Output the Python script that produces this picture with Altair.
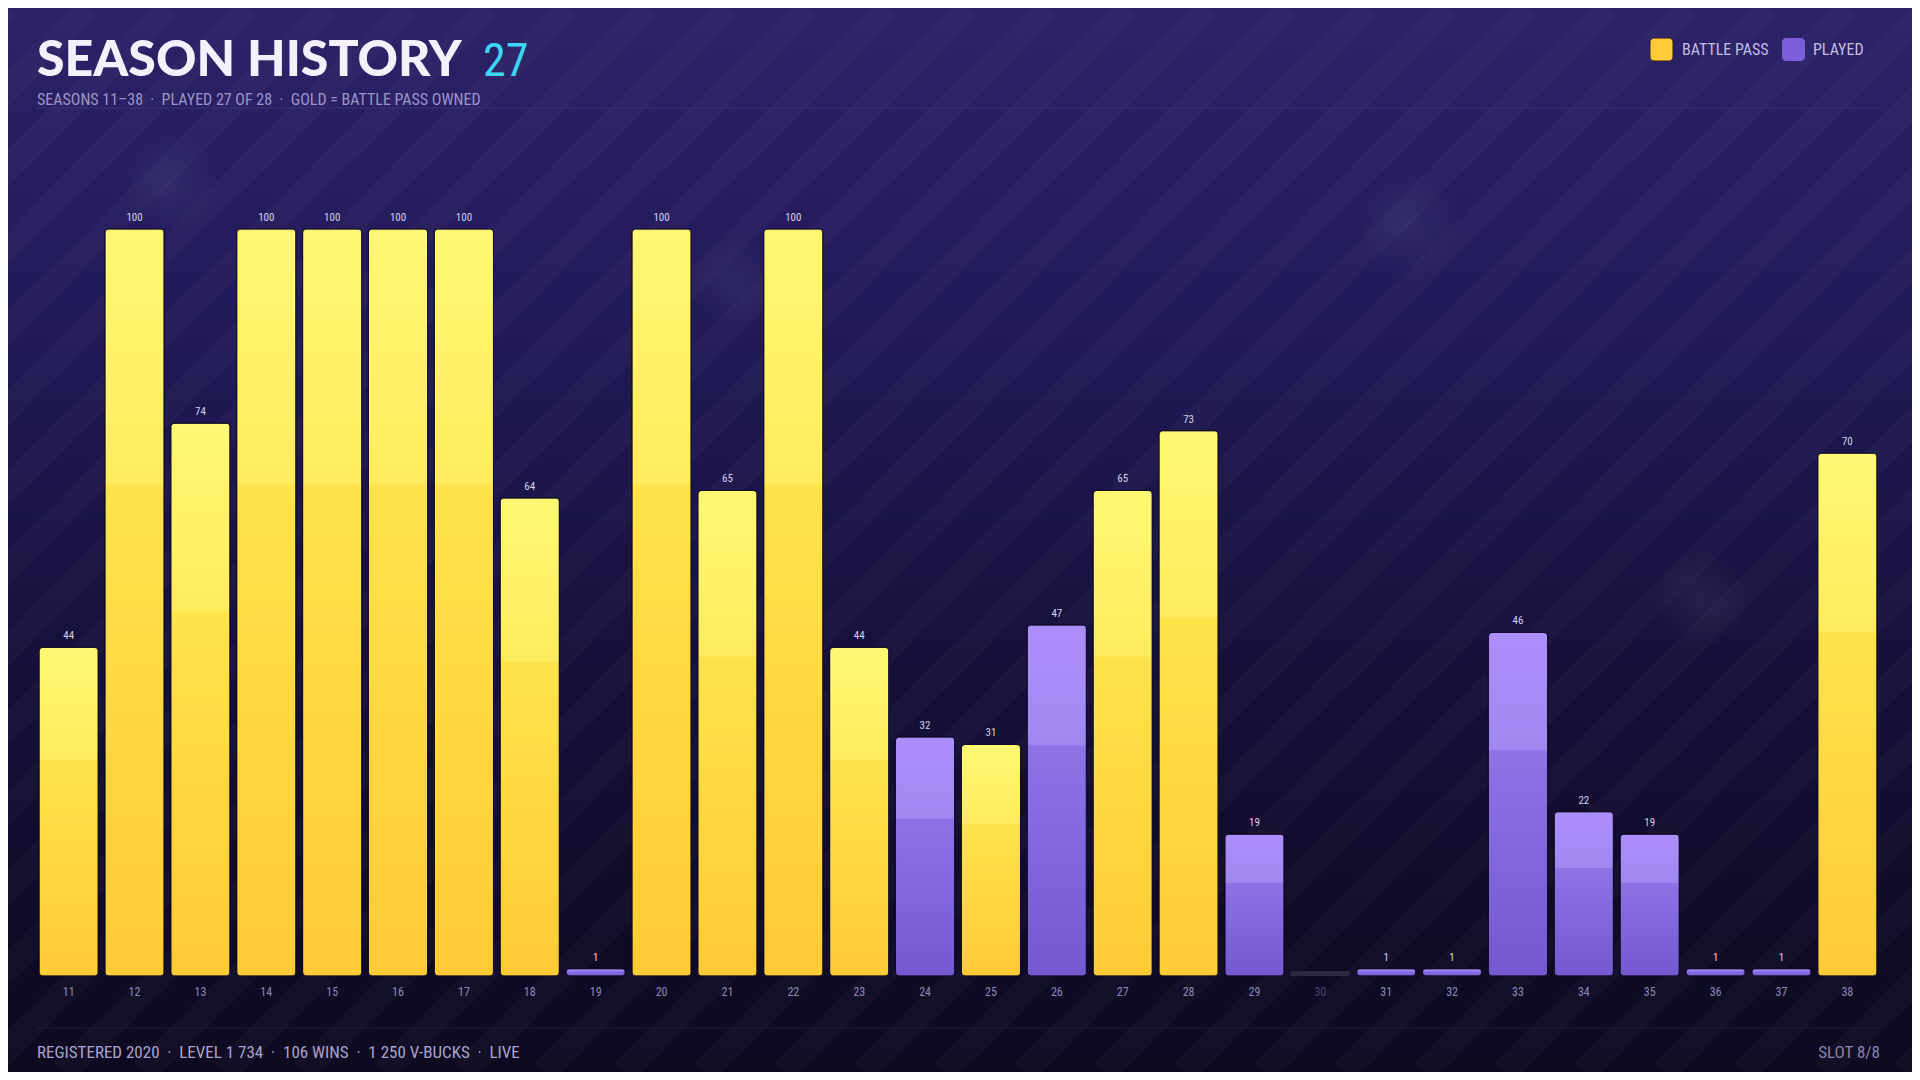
import altair as alt
import pandas as pd

# ---------------- data ----------------
seasons = list(range(11, 39))
levels = [44, 100, 74, 100, 100, 100, 100, 64, 1, 100, 65, 100, 44, 32, 31, 47,
          65, 73, 19, 0, 1, 1, 46, 22, 19, 1, 1, 70]
status = ["bp", "bp", "bp", "bp", "bp", "bp", "bp", "bp", "played", "bp", "bp",
          "bp", "bp", "played", "bp", "played", "bp", "bp", "played", "none",
          "played", "played", "played", "played", "played", "played", "played", "bp"]

SEP = "\u00a0\u00a0\u00b7\u00a0\u00a0"
title_text = "SEASON HISTORY"
title_count = "27"
subtitle_text = SEP.join(["SEASONS 11\u201338", "PLAYED 27 OF 28", "GOLD = BATTLE PASS OWNED"])
footer_left = SEP.join(["REGISTERED 2020", "LEVEL 1\u00a0734", "106 WINS", "1\u00a0250 V-BUCKS", "LIVE"])
footer_right = "SLOT 8/8"
legend_labels = ["BATTLE PASS", "PLAYED"]

# decorative background glows (plot-pixel positions, radius)
glow_x = [1369, 1663, 132, 696]
glow_y = [-3, 371, -45, 53]
glow_r = [60, 55, 55, 50]

df = pd.DataFrame({"season": seasons, "level": levels, "status": status})
one = pd.DataFrame({"a": [0]})
glows = pd.DataFrame({"gx": glow_x, "gy": glow_y, "area": [3.1416 * r * r for r in glow_r]})

# ---------------- layout ----------------
W, H = 1838, 747          # plot area
PAD = {"left": 31, "top": 221, "right": 35, "bottom": 96}
CW, CH = W + PAD["left"] + PAD["right"], H + PAD["top"] + PAD["bottom"]
X0, Y0 = -PAD["left"], -PAD["top"]

COND = "Roboto Condensed, Liberation Sans Narrow, DejaVu Sans Condensed, Roboto, sans-serif"

x_enc = alt.X("season:O", scale=alt.Scale(domain=seasons, paddingInner=0.1, paddingOuter=0), axis=None)
y_scale = alt.Scale(domain=[0, 100])

base = alt.Chart(df)

# background
bg = alt.Chart(one).mark_rect(
    color=alt.LinearGradient(
        gradient="linear", x1=0, x2=0, y1=0, y2=1,
        stops=[alt.GradientStop(offset=0, color="#2c2268"),
               alt.GradientStop(offset=0.3, color="#211a57"),
               alt.GradientStop(offset=0.6, color="#16113c"),
               alt.GradientStop(offset=0.85, color="#0f0b28"),
               alt.GradientStop(offset=1, color="#0d0a20")])
).encode(x=alt.value(X0), x2=alt.value(X0 + CW), y=alt.value(Y0), y2=alt.value(Y0 + CH))

glow = alt.Chart(glows).mark_point(
    filled=True, shape="circle", opacity=0.06, strokeWidth=0,
    color=alt.RadialGradient(
        gradient="radial", x1=0.5, y1=0.5, r1=0, x2=0.5, y2=0.5, r2=0.5,
        stops=[alt.GradientStop(offset=0, color="#ffffff"),
               alt.GradientStop(offset=1, color="rgba(255,255,255,0)")])
).encode(x=alt.X("gx:Q", scale=None), y=alt.Y("gy:Q", scale=None),
         size=alt.Size("area:Q", scale=None))

# diagonal stripes (decoration)
stripes = alt.Chart(alt.sequence(0, 40, as_="i")).transform_calculate(
    sx=f"{X0 - CH} + datum.i * 80",
    sy=f"{Y0 + CH}",
).transform_calculate(
    ex=f"datum.sx + {CH}",
    ey=f"{Y0}",
).mark_rule(strokeWidth=26, color="#ffffff", opacity=0.022).encode(
    x=alt.X("sx:Q", scale=None), y=alt.Y("sy:Q", scale=None),
    x2="ex:Q", y2="ey:Q")

# header / footer separators
hline = alt.Chart(one).mark_rule(color="#3b3275", strokeWidth=1).encode(
    x=alt.value(-2), x2=alt.value(1841), y=alt.value(-121))
fline = alt.Chart(one).mark_rule(color="#221d45", strokeWidth=1).encode(
    x=alt.value(-2), x2=alt.value(1841), y=alt.value(799))


def txt(text, x, y, **kw):
    return alt.Chart(one).mark_text(text=text, **kw).encode(x=alt.value(x), y=alt.value(y))


title = txt(title_text, -2, -153, font="Lato", fontWeight=900, fontSize=50,
            color="#f4f1ff", align="left", baseline="alphabetic")
count = txt(title_count, 444, -153, font=COND, fontSize=46, color="#3ed6f2",
            align="left", baseline="alphabetic")
subtitle = txt(subtitle_text, -2, -129, font=COND, fontSize=16, color="#9c95c8",
               align="left", baseline="middle")
foot_l = txt(footer_left, -2, 824, font=COND, fontSize=17, color="#a9a3cf",
             align="left", baseline="middle")
foot_r = txt(footer_right, 1841, 824, font=COND, fontSize=17, color="#8a84ae",
             align="right", baseline="middle")

# legend
leg_gold = alt.Chart(one).mark_rect(color="#ffcb36", cornerRadius=4, stroke="#3a1a20", strokeWidth=1).encode(
    x=alt.value(1611), x2=alt.value(1634), y=alt.value(-191), y2=alt.value(-168))
leg_purp = alt.Chart(one).mark_rect(color="#7a5edb", cornerRadius=4).encode(
    x=alt.value(1743), x2=alt.value(1766), y=alt.value(-191), y2=alt.value(-168))
leg_t1 = txt(legend_labels[0], 1643, -179.5, font=COND, fontSize=16, color="#c3bde6",
             align="left", baseline="middle")
leg_t2 = txt(legend_labels[1], 1774, -179.5, font=COND, fontSize=16, color="#c3bde6",
             align="left", baseline="middle")

gold_grad = alt.LinearGradient(
    gradient="linear", x1=0, x2=0, y1=0, y2=1,
    stops=[alt.GradientStop(offset=0, color="#fff874"),
           alt.GradientStop(offset=0.34, color="#ffec5e"),
           alt.GradientStop(offset=0.345, color="#ffe34a"),
           alt.GradientStop(offset=1, color="#ffcb37")])
purp_grad = alt.LinearGradient(
    gradient="linear", x1=0, x2=0, y1=0, y2=1,
    stops=[alt.GradientStop(offset=0, color="#ad8efb"),
           alt.GradientStop(offset=0.34, color="#a188f1"),
           alt.GradientStop(offset=0.345, color="#8e72e6"),
           alt.GradientStop(offset=1, color="#7458cf")])

bars_gold = base.transform_filter("datum.status == 'bp'").mark_bar(
    color=gold_grad, cornerRadius=4, stroke="#0c0920", strokeWidth=1.2, strokeOpacity=0.8
).encode(x=x_enc, y=alt.Y("level:Q", scale=y_scale, axis=None))

bars_purp = base.transform_filter("datum.status == 'played'").mark_bar(
    color=purp_grad, cornerRadius=4, stroke="#0c0920", strokeWidth=1.2, strokeOpacity=0.8
).encode(x=x_enc, y=alt.Y("level:Q", scale=y_scale, axis=None))

bars_none = base.transform_filter("datum.status == 'none'").transform_calculate(
    stub="0.7").mark_bar(color="#2c2843", cornerRadius=2).encode(
    x=x_enc, y=alt.Y("stub:Q", scale=y_scale, axis=None))

values = base.transform_filter("datum.status != 'none'").mark_text(
    font=COND, fontSize=11, color="#d4cff0", baseline="bottom", dy=-6
).encode(x=x_enc, y=alt.Y("level:Q", scale=y_scale, axis=None), text="level:Q")

xlabels = base.mark_text(font=COND, fontSize=12, baseline="middle").encode(
    x=x_enc, y=alt.value(763), text="season:O",
    color=alt.condition("datum.status == 'none'", alt.value("#4a4570"), alt.value("#8e88b5")))

chart = alt.layer(
    bg, glow, stripes, hline, fline, title, count, subtitle, foot_l, foot_r,
    leg_gold, leg_purp, leg_t1, leg_t2,
    bars_none, bars_gold, bars_purp, values, xlabels
).properties(
    width=W, height=H, padding=PAD,
    autosize=alt.AutoSizeParams(type="none"),
    background="#0d0a20"
).configure_view(stroke=None)

chart.save("out.html", embed_options={"renderer": "svg", "actions": False})
